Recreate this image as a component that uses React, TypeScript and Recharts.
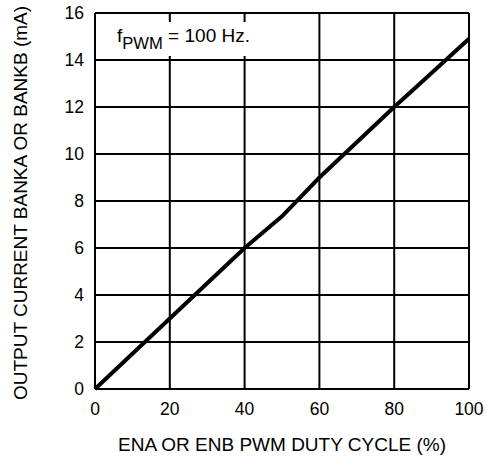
import React from "react";
import { LineChart, Line, XAxis, YAxis, CartesianGrid, Customized } from "recharts";

const dutyCycle = [0, 10, 20, 30, 40, 50, 60, 70, 80, 90, 100];
const outputCurrent = [0, 1.5, 3.0, 4.5, 6.0, 7.35, 9.0, 10.5, 12.0, 13.45, 14.9];
const xTicks = [0, 20, 40, 60, 80, 100];
const yTicks = [0, 2, 4, 6, 8, 10, 12, 14, 16];
const xTitle = "ENA OR ENB PWM DUTY CYCLE (%)";
const yTitle = "OUTPUT CURRENT BANKA OR BANKB (mA)";

const data = dutyCycle.map((d, i) => ({ duty: d, current: outputCurrent[i] }));

const FONT = "'Liberation Sans', Arial, sans-serif";

const Annotation = (props: any) => {
  const off = props.offset || {};
  const left = off.left ?? 95;
  const top = off.top ?? 13;
  const h = off.height ?? 376;
  const x = left + 22;
  const y = top + 28.7;
  const cy = top + h / 2 + 2;
  const lx = 26.5;
  return (
    <g>
      <rect x={left + 15} y={top + 9} width={148} height={34} fill="#fff" />
      <text x={x} y={y} fontFamily={FONT} fontSize={19} fill="#000">
        f
        <tspan dy={7.6} fontSize={16.6}>PWM</tspan>
        <tspan dy={-7.6}> = 100 Hz.</tspan>
      </text>
      <text
        x={lx}
        y={cy}
        transform={`rotate(-90, ${lx}, ${cy})`}
        textAnchor="middle"
        fontFamily={FONT}
        fontSize={19}
        fill="#000"
      >
        {yTitle}
      </text>
    </g>
  );
};

export default function App() {
  return (
    <div style={{ position: "absolute", left: 0, top: 0, width: 487, height: 460, background: "#fff" }}>
      <LineChart
        width={487}
        height={460}
        data={data}
        margin={{ top: 13, right: 18, left: 0, bottom: 0 }}
      >
        <CartesianGrid stroke="#000" strokeWidth={2} />
        <XAxis
          dataKey="duty"
          type="number"
          domain={[0, 100]}
          ticks={xTicks}
          height={71}
          tickLine={false}
          axisLine={{ stroke: "#000", strokeWidth: 2 }}
          tick={{ fill: "#000", fontSize: 17.5, fontFamily: FONT }}
          tickMargin={8}
          label={{
            value: xTitle,
            position: "insideBottom",
            offset: 9,
            fill: "#000",
            fontSize: 19,
            fontFamily: FONT,
          }}
        />
        <YAxis
          type="number"
          domain={[0, 16]}
          ticks={yTicks}
          width={95}
          tickLine={false}
          axisLine={{ stroke: "#000", strokeWidth: 2 }}
          tick={{ fill: "#000", fontSize: 17.5, fontFamily: FONT }}
          tickMargin={5}
        />
        <Customized component={Annotation} />
        <Line
          dataKey="current"
          stroke="#000"
          strokeWidth={4}
          dot={false}
          isAnimationActive={false}
          type="linear"
        />
      </LineChart>
    </div>
  );
}
